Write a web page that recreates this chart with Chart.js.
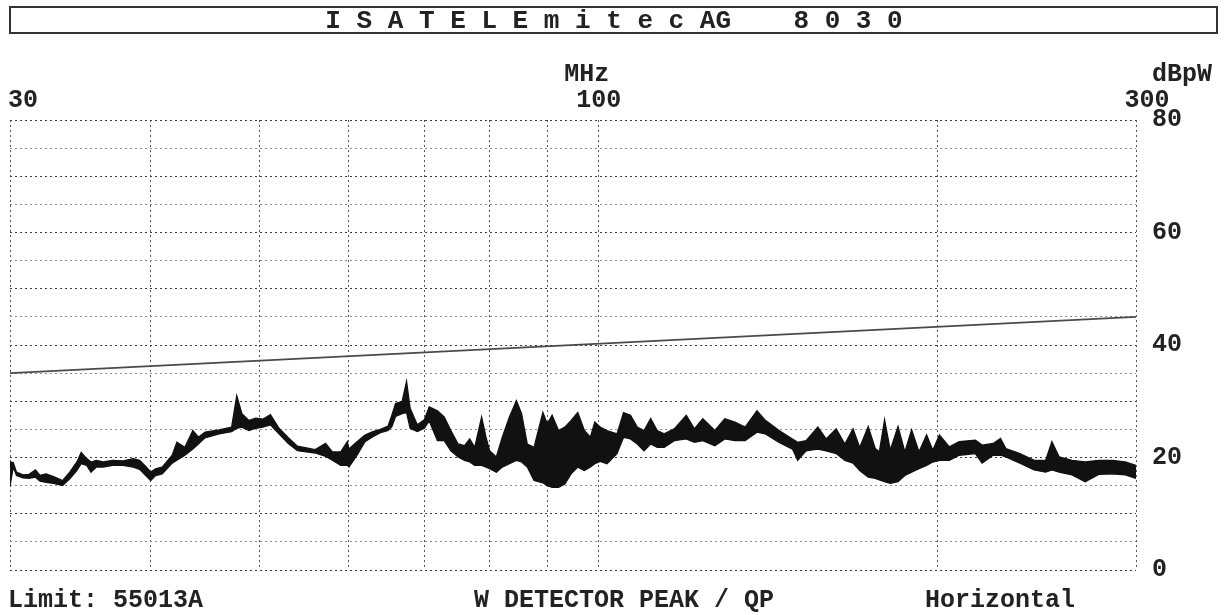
<!DOCTYPE html>
<html><head><meta charset="utf-8">
<script src="https://cdn.jsdelivr.net/npm/chart.js@4.4.1/dist/chart.umd.min.js"></script>
<style>html,body{margin:0;padding:0;background:#fff;}#wrap{position:relative;width:1227px;height:615px;}</style>
</head><body><div id="wrap"><canvas id="c"></canvas></div>
<script>
const titleText = 'I S A T E L E m i t e c AG    8 0 3 0';
const xUnit = 'MHz';
const yUnit = 'dBpW';
const footerTexts = ['Limit: 55013A', 'W DETECTOR PEAK / QP', 'Horizontal'];
const xGridMHz = [30, 40, 50, 60, 70, 80, 90, 100, 200, 300];
const xTickLabels = [30, 100, 300];
const yMin = 0, yMax = 80, yStep = 5, yLabelStep = 20;
const limitFreqMHz = [30, 300];
const limitDbpw = [35, 45];
const freqMHz = [30.0,30.2,30.4,30.8,31.2,31.6,31.9,32.3,32.8,33.4,33.9,34.4,34.7,35.1,35.4,35.8,36.3,37.0,37.8,38.6,39.1,39.6,40.0,40.4,40.95,41.8,42.2,42.9,43.6,44.1,44.7,46.0,47.2,47.7,48.2,48.9,49.6,50.3,51.1,52.0,53.0,54.0,55.0,56.0,57.2,58.0,59.0,59.8,60.0,61.0,62.0,63.0,64.0,65.0,65.5,66.0,66.9,67.5,68.0,69.0,70.0,70.7,71.9,72.9,73.9,75.0,76.0,76.8,77.6,78.7,79.4,80.0,81.1,82.1,83.3,84.5,85.4,86.4,87.6,89.2,90.0,90.9,92.1,93.3,94.5,95.8,97.1,98.3,99.2,100.3,101.7,103.8,105.2,106.7,108.2,109.7,111.2,112.7,114.3,116.7,119.6,121.6,123.7,126.8,129.4,132.1,134.9,138.2,140.6,144.6,148.6,150.2,152.8,156.5,159.2,162.5,165.4,168.2,170.5,173.5,176.0,177.5,179.4,181.5,184.4,187.0,189.6,192.5,195.5,198.0,200.7,204.8,209.0,216.0,219.0,224.0,227.4,229.9,236.6,243.6,249.4,252.6,256.4,263.2,270.4,278.0,285.7,293.5,300.0];
const peakHigh = [19.2,19.1,17.4,16.9,17.0,17.8,16.8,17.1,16.6,15.9,17.4,19.2,20.9,19.8,19.2,19.5,19.2,19.5,19.4,19.8,19.5,18.4,17.4,18.0,18.3,20.4,22.7,21.8,24.8,23.6,24.5,24.9,25.4,31.0,27.8,26.6,27.0,26.8,27.6,25.2,23.5,22.0,21.7,21.4,22.5,21.0,21.0,22.8,21.5,22.8,24.0,24.6,25.0,25.6,27.5,29.6,30.0,33.5,28.7,25.8,26.7,29.0,28.3,27.2,24.8,22.4,22.1,23.3,21.8,27.2,23.6,21.2,20.1,23.6,27.2,30.1,27.8,22.4,21.8,28.0,26.0,27.5,24.8,25.4,26.6,28.0,24.8,23.6,26.3,25.4,24.8,24.2,28.0,27.5,25.4,24.8,26.9,24.8,24.2,25.1,27.5,25.1,26.9,24.8,26.9,26.3,25.4,28.3,26.6,24.8,23.3,22.7,23.0,25.4,23.3,25.1,22.4,25.1,21.8,25.5,21.6,21.0,26.7,21.3,25.5,21.0,24.9,21.0,24.0,21.3,24.0,21.9,22.8,23.1,22.2,22.5,23.4,21.6,20.7,19.5,19.5,22.8,20.1,19.5,19.2,19.5,19.5,19.2,18.6];
const peakLow = [14.9,18.3,16.8,16.4,16.3,16.5,15.8,15.6,15.4,15.0,16.2,17.7,18.9,18.6,17.4,18.3,18.3,18.6,18.6,18.3,17.9,16.8,15.9,16.8,17.1,19.0,19.5,20.4,21.5,22.4,23.5,24.2,24.6,25.2,25.4,24.8,25.2,25.4,25.8,24.2,22.5,21.2,21.0,20.8,20.2,19.5,18.6,18.6,18.3,20.4,22.8,23.7,24.4,24.8,25.5,27.3,27.8,28.0,25.2,24.6,25.2,26.5,23.0,23.0,21.2,20.1,19.5,19.2,18.6,18.6,18.3,18.0,17.4,18.3,18.9,19.5,19.2,18.3,15.9,15.5,15.0,14.7,14.7,15.3,17.1,18.3,17.7,18.3,18.9,19.3,18.9,20.7,23.6,23.3,22.4,21.2,22.4,21.8,21.8,23.0,23.3,22.7,23.0,22.1,23.3,23.0,23.0,24.5,24.2,22.7,21.5,19.5,21.2,21.5,21.2,20.7,19.5,19.0,17.7,16.5,16.3,16.0,15.7,15.4,15.7,16.8,17.4,18.0,18.6,19.2,19.5,19.5,20.4,20.7,19.0,20.4,20.4,20.1,19.0,17.8,17.4,17.8,17.4,16.9,15.7,17.0,17.1,16.9,16.3];

const FONT = "bold 25px 'Liberation Mono', 'DejaVu Sans Mono', monospace";
const INK = '#222';

const decor = {
  id: 'decor',
  afterDraw(chart) {
    const ctx = chart.ctx;
    const xs = chart.scales.x;
    ctx.save();
    ctx.fillStyle = INK;
    ctx.strokeStyle = '#333';
    ctx.lineWidth = 2;
    ctx.strokeRect(10, 7, 1207, 26);
    ctx.font = "bold 26px 'Liberation Mono', 'DejaVu Sans Mono', monospace";
    ctx.textBaseline = 'middle';
    ctx.textAlign = 'center';
    ctx.fillText(titleText, 614, 21);
    ctx.font = FONT;
    xTickLabels.forEach((v, i) => {
      const px = xs.getPixelForValue(v);
      if (i === 0) { ctx.textAlign = 'left'; ctx.fillText(String(v), px - 2, 101); }
      else if (i === xTickLabels.length - 1) { ctx.textAlign = 'center'; ctx.fillText(String(v), px + 11, 101); }
      else { ctx.textAlign = 'center'; ctx.fillText(String(v), px, 101); }
    });
    ctx.textAlign = 'center';
    ctx.fillText(xUnit, xs.getPixelForValue(100) - 12, 75);
    ctx.textAlign = 'left';
    ctx.fillText(yUnit, chart.chartArea.right + 16, 75);
    ctx.fillText(footerTexts[0], 8, 601);
    ctx.fillText(footerTexts[1], 474, 601);
    ctx.fillText(footerTexts[2], 925, 601);
    ctx.restore();
  }
};

const pts = (xsArr, ysArr) => xsArr.map((f, i) => ({ x: f, y: ysArr[i] }));

new Chart(document.getElementById('c'), {
  type: 'line',
  data: {
    datasets: [
      { label: 'Peak max', data: pts(freqMHz, peakHigh), borderColor: '#111', backgroundColor: '#111', borderWidth: 1.3, pointRadius: 0, fill: '+1', tension: 0 },
      { label: 'Peak min', data: pts(freqMHz, peakLow), borderColor: '#111', borderWidth: 1.3, pointRadius: 0, fill: false, tension: 0 },
      { label: 'Limit', data: pts(limitFreqMHz, limitDbpw), borderColor: '#4a4a4a', borderWidth: 1.6, pointRadius: 0, fill: false, tension: 0 }
    ]
  },
  options: {
    responsive: true,
    maintainAspectRatio: false,
    animation: false,
    devicePixelRatio: 1,
    layout: { padding: { left: 10, right: 0, top: 120, bottom: 45 } },
    plugins: { legend: { display: false }, tooltip: { enabled: false }, title: { display: false } },
    scales: {
      x: {
        type: 'logarithmic', position: 'bottom', min: 30, max: 300,
        afterBuildTicks: (s) => { s.ticks = xGridMHz.map(v => ({ value: v })); },
        afterFit: (s) => { s.height = 0; s.paddingLeft = 0; s.paddingRight = 0; },
        ticks: { display: false },
        grid: { color: '#555', lineWidth: 1, drawTicks: false },
        border: { display: false, dash: [2, 3] }
      },
      y: {
        type: 'linear', position: 'right', min: yMin, max: yMax,
        afterFit: (s) => { s.width = 91; },
        ticks: {
          stepSize: yStep, autoSkip: false, padding: 16, color: INK,
          font: { family: "'Liberation Mono', 'DejaVu Sans Mono', monospace", size: 25, weight: 'bold' },
          callback: (v) => (v % yLabelStep === 0 ? String(v) : '')
        },
        grid: {
          drawTicks: false, lineWidth: 1,
          color: (c) => (c.tick && c.tick.value % 10 === 0 ? '#3c3c3c' : '#8c8c8c')
        },
        border: { display: false, dash: [2, 3] }
      }
    }
  },
  plugins: [decor]
});
</script></body></html>
